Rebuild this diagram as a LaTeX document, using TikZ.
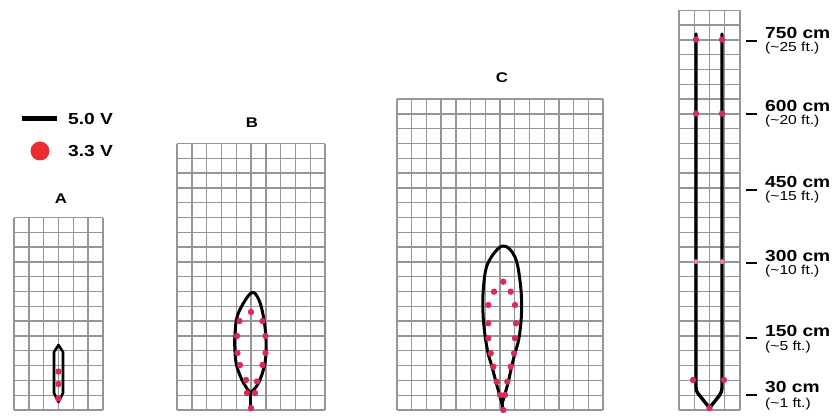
\documentclass[tikz,border=0pt]{standalone}
\usepackage{fontspec}
\setmainfont[FakeStretch=1.2]{Liberation Sans}
\definecolor{gridgray}{RGB}{150,150,150}
\definecolor{dotred}{RGB}{222,40,85}
\definecolor{legred}{RGB}{235,45,50}
\newcommand\mygrid[6]{%
  \foreach \i in {0,...,#3} \draw[gridln] ({#1+\i*#5},#2) -- ({#1+\i*#5},{#2-#4*#6});
  \foreach \j in {0,...,#4} \draw[gridln] (#1,{#2-\j*#6}) -- ({#1+#3*#5},{#2-\j*#6});
}
\tikzset{
  gridln/.style={draw=gridgray, line width=1.4pt},
  plume/.style={draw=black, line width=3pt, line join=round, line cap=round},
  rdot/.style={fill=dotred},
  fadedot/.style={fill=dotred!60},
  bigtxt/.style={font=\bfseries\fontsize{16}{18}\selectfont, inner sep=0pt, anchor=west},
  smalltxt/.style={font=\fontsize{13}{15}\selectfont, inner sep=0pt, anchor=west},
  lettertxt/.style={font=\bfseries\fontsize{14}{16}\selectfont, inner sep=0pt},
  tickln/.style={draw=black, line width=2.4pt}
}
\begin{document}
\begin{tikzpicture}[x=1pt,y=-1pt]
\useasboundingbox (0,0) rectangle (835,419);

% grids
\mygrid{14}{410}{6}{13}{14.8}{14.8}
\mygrid{177}{410}{10}{18}{14.8}{14.8}
\mygrid{397}{410}{14}{21}{14.72}{14.8}
\mygrid{679}{410}{4}{27}{15.25}{14.8}

% legend
\draw[black, line width=5pt] (22,119) -- (57,119);
\fill[legred] (40,151) circle (9.5pt);
\node[bigtxt] (leg1) at (68,119) {5.0 V};
\node[bigtxt] (leg2) at (68,151) {3.3 V};

% letters
\node[lettertxt] (la) at (61,199) {A};
\node[lettertxt] (lb) at (252,123) {B};
\node[lettertxt] (lc) at (502,78) {C};

% shape A
\draw[plume, line width=2.6pt] (58.5,345) -- (63,352) -- (63,393) -- (58.5,402) -- (54,393) -- (54,352) -- cycle;
\foreach \p in {(58.5,371.5),(58.5,384),(58.5,398.5)} \fill[rdot] \p circle (3.2pt);

% shape B
\draw[plume] plot[smooth, tension=0.6] coordinates {(250.5,393) (243.5,383) (237,367) (235,352) (235,335) (238,314) (251,293) (258.5,299) (263.5,317) (266,340) (265,363) (258.5,383) (250.5,393)};
\draw[plume] (250.5,393) -- (250.5,410);
\foreach \p in {(251,312),(239.5,321),(262.5,321),(237,336),(265.5,336),(237.5,353),(265.5,353),(240,365),(262.5,365),(246,380),(257,381.5),(247,393),(255,393),(251,408)}
  \fill[rdot] \p circle (3.2pt);

% shape C
\draw[plume] plot[smooth, tension=0.6] coordinates {(502,404) (496,382) (491.5,365) (488,353) (485,335) (483,313) (483.5,287) (488,263) (502.5,246) (515,257) (520.5,285) (521.5,313) (519,338) (515,353) (511.5,367) (508,383) (502,404)};
\draw[plume] (502,404) -- (502,410);
\foreach \p in {(503.3,281.7),(494,291.7),(510.7,291.7),(488.3,305),(515,305),(488.3,323.3),(516,323.3),(488.3,338.3),(515,338.3),(490.7,353.3),(514,353.3),(493.3,366.7),(510.7,366.7),(496.7,381.7),(507.3,381.7),(500,395),(505,395),(503.3,410)}
  \fill[rdot] \p circle (3.2pt);

% shape D
\draw[plume, line width=3.4pt] (696,34) -- (696,384) .. controls (696,391) .. (700,396) -- (709.5,408) -- (719,396) .. controls (722,391) .. (722,384) -- (722,34);
\foreach \p in {(696,39.6),(722,39.6),(696,113.6),(722,113.6),(693,380),(724,380),(709.5,408)}
  \fill[rdot] \p circle (3.2pt);
\foreach \p in {(696,261.6),(722,261.6)}
  \fill[fadedot] \p circle (2.5pt);

% scale labels
\foreach \y in {41,114,190,263,338,395} \draw[tickln] (746,\y) -- (757,\y);
\node[bigtxt] (s750) at (765,33) {750 cm};
\node[smalltxt] (f25) at (765,48) {(\textasciitilde25 ft.)};
\node[bigtxt] (s600) at (765,106) {600 cm};
\node[smalltxt] (f20) at (765,121) {(\textasciitilde20 ft.)};
\node[bigtxt] (s450) at (765,182) {450 cm};
\node[smalltxt] (f15) at (765,197) {(\textasciitilde15 ft.)};
\node[bigtxt] (s300) at (765,256) {300 cm};
\node[smalltxt] (f10) at (765,271) {(\textasciitilde10 ft.)};
\node[bigtxt] (s150) at (765,331) {150 cm};
\node[smalltxt] (f5) at (765,347) {(\textasciitilde5 ft.)};
\node[bigtxt] (s30) at (765,387) {30 cm};
\node[smalltxt] (f1) at (765,404) {(\textasciitilde1 ft.)};
\end{tikzpicture}
\end{document}
